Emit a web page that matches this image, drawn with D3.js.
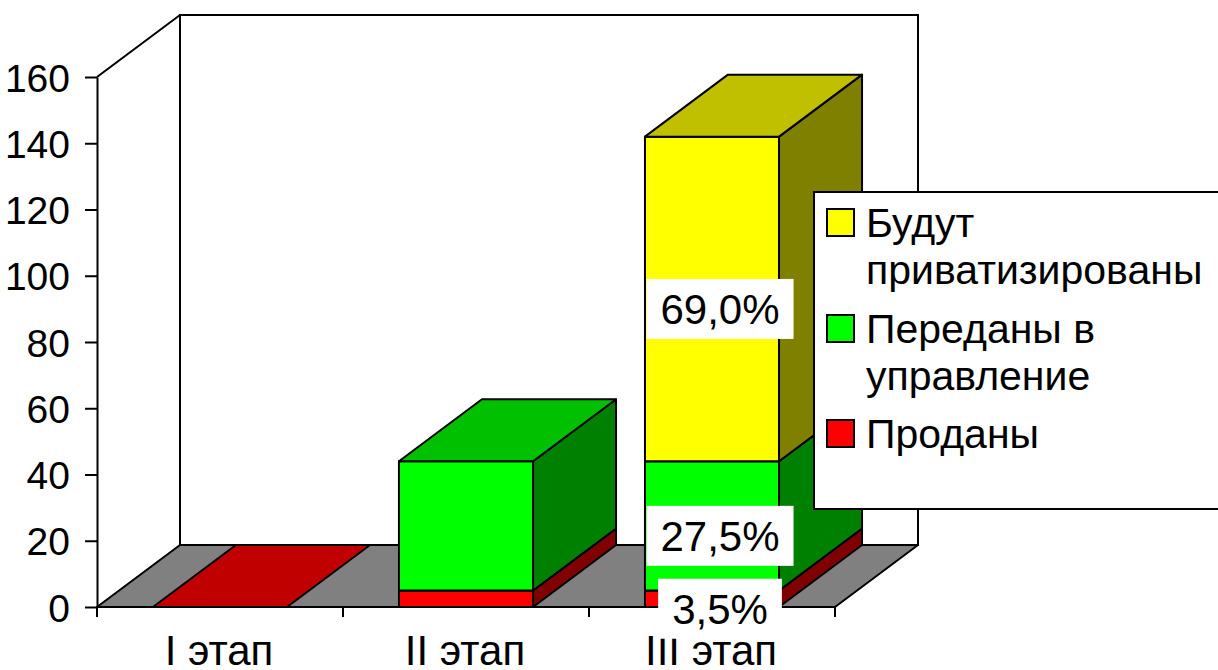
<!DOCTYPE html>
<html>
<head>
<meta charset="utf-8">
<script src="https://cdn.jsdelivr.net/npm/d3@7"></script>
<style>
  html, body { margin: 0; padding: 0; background: #fff; }
  svg { display: block; font-family: "Liberation Sans", Arial, sans-serif; }
</style>
</head>
<body>
<svg id="chart" width="1218" height="670"></svg>
<script>
// ---- data ----
const categories = ["I этап", "II этап", "III этап"];
const sold        = [0, 5, 5];          // Проданы
const transferred = [null, 39, 39];     // Переданы в управление
const privatized  = [null, null, 98];   // Будут приватизированы
const soldPct        = [null, null, "3,5%"];
const transferredPct = [null, null, "27,5%"];
const privatizedPct  = [null, null, "69,0%"];
const yTicks = [0, 20, 40, 60, 80, 100, 120, 140, 160];
const legendLabels = [["Будут", "приватизированы"], ["Переданы в", "управление"], ["Проданы"]];

// ---- layout ----
const svg = d3.select("#chart");
const depthX = 83, depthY = -62;
const y = d3.scaleLinear().domain([0, 160]).range([607, 77]);
const x = d3.scaleBand().domain(categories).range([97, 835]).paddingInner(0).paddingOuter(0);
const barW = x.bandwidth() * 0.545;

const series = [
  { name: "sold", values: sold, pct: soldPct, front: "#FF0000", top: "#C00000", side: "#800000" },
  { name: "transferred", values: transferred, pct: transferredPct, front: "#00FF00", top: "#00C000", side: "#008000" },
  { name: "privatized", values: privatized, pct: privatizedPct, front: "#FFFF00", top: "#C0C000", side: "#808000" }
];

const x0 = x.range()[0], x1 = x.range()[1];
const y0 = y(0), yTop = y(160);

// back wall
svg.append("rect")
  .attr("x", x0 + depthX).attr("y", yTop + depthY)
  .attr("width", x1 - x0).attr("height", y0 - yTop)
  .attr("fill", "#fff").attr("stroke", "#000").attr("stroke-width", 2);
// left wall edge
svg.append("path")
  .attr("d", `M${x0},${yTop}L${x0 + depthX},${yTop + depthY}`)
  .attr("stroke", "#000").attr("stroke-width", 2).attr("fill", "none");
// floor
svg.append("path")
  .attr("d", `M${x0},${y0}L${x1},${y0}L${x1 + depthX},${y0 + depthY}L${x0 + depthX},${y0 + depthY}Z`)
  .attr("fill", "#808080").attr("stroke", "#000").attr("stroke-width", 2).attr("stroke-linejoin", "round");

// bars
const gBars = svg.append("g");
categories.forEach((c, i) => {
  const bx0 = x(c) + (x.bandwidth() - barW) / 2;
  const bx1 = bx0 + barW;
  let base = 0;
  series.forEach(s => {
    const v = s.values[i];
    if (v === null || v === undefined) return;
    const yb = y(base), yt = y(base + v);
    const g = gBars.append("g").attr("stroke", "#000").attr("stroke-width", 2).attr("stroke-linejoin", "round");
    if (v > 0) {
      g.append("path").attr("fill", s.front)
        .attr("d", `M${bx0},${yb}L${bx1},${yb}L${bx1},${yt}L${bx0},${yt}Z`);
      g.append("path").attr("fill", s.side)
        .attr("d", `M${bx1},${yb}L${bx1 + depthX},${yb + depthY}L${bx1 + depthX},${yt + depthY}L${bx1},${yt}Z`);
    }
    g.append("path").attr("fill", s.top)
      .attr("d", `M${bx0},${yt}L${bx1},${yt}L${bx1 + depthX},${yt + depthY}L${bx0 + depthX},${yt + depthY}Z`);
    s._pos = s._pos || [];
    s._pos[i] = { cx: (bx0 + bx1) / 2, mid: y(base + v / 2) };
    base += v;
  });
});

// y axis
const yAxis = d3.axisLeft(y).tickValues(yTicks).tickSize(12).tickSizeOuter(0).tickPadding(15);
const gy = svg.append("g").attr("transform", `translate(${x0},0)`).call(yAxis);
gy.select(".domain").attr("stroke", "#000").attr("stroke-width", 2);
gy.selectAll(".tick line").attr("stroke", "#000").attr("stroke-width", 2);
gy.selectAll(".tick text").attr("font-size", 39).attr("fill", "#000")
  .attr("font-family", "'Liberation Sans', Arial, sans-serif").attr("dy", "0.36em");

// x axis: baseline + boundary ticks + labels
const boundaries = categories.map(c => x(c)).concat([x1]);
svg.append("line").attr("x1", x0).attr("x2", x1).attr("y1", y0).attr("y2", y0)
  .attr("stroke", "#000").attr("stroke-width", 2);
svg.selectAll(".xtick").data(boundaries).join("line")
  .attr("class", "xtick")
  .attr("x1", d => d).attr("x2", d => d).attr("y1", y0).attr("y2", y0 + 10)
  .attr("stroke", "#000").attr("stroke-width", 2);
svg.selectAll(".xlab").data(categories).join("text")
  .attr("class", "xlab")
  .attr("x", d => x(d) + x.bandwidth() / 2 - 1)
  .attr("y", 665)
  .attr("text-anchor", "middle").attr("font-size", 42).attr("fill", "#000")
  .text(d => d);

// data labels
const gLab = svg.append("g");
series.forEach(s => {
  s.pct.forEach((p, i) => {
    if (!p) return;
    const pos = s._pos[i];
    const cx = pos.cx + 8, cy = pos.mid + 10;
    const g = gLab.append("g");
    const r = g.append("rect").attr("fill", "#fff");
    const t = g.append("text").attr("x", cx).attr("y", cy).attr("dy", "0.36em")
      .attr("text-anchor", "middle").attr("font-size", 42).attr("fill", "#000").text(p);
    const bb = t.node().getBBox();
    r.attr("x", bb.x - 14).attr("y", cy - 30).attr("width", bb.width + 28).attr("height", 60);
  });
});

// legend
const legendColors = ["#FFFF00", "#00FF00", "#FF0000"];
const gLeg = svg.append("g");
gLeg.append("rect").attr("x", 814).attr("y", 192).attr("width", 420).attr("height", 317)
  .attr("fill", "#fff").attr("stroke", "#000").attr("stroke-width", 2);
const entryY = [237, 343, 448];
legendLabels.forEach((lines, i) => {
  gLeg.append("rect").attr("x", 827).attr("y", entryY[i] - 28).attr("width", 27).attr("height", 27)
    .attr("fill", legendColors[i]).attr("stroke", "#000").attr("stroke-width", 2);
  const t = gLeg.append("text").attr("x", 866).attr("y", entryY[i]).attr("font-size", 41).attr("fill", "#000");
  lines.forEach((ln, j) => {
    t.append("tspan").attr("x", 866).attr("dy", j === 0 ? 0 : 46.5).text(ln);
  });
});
</script>
</body>
</html>
